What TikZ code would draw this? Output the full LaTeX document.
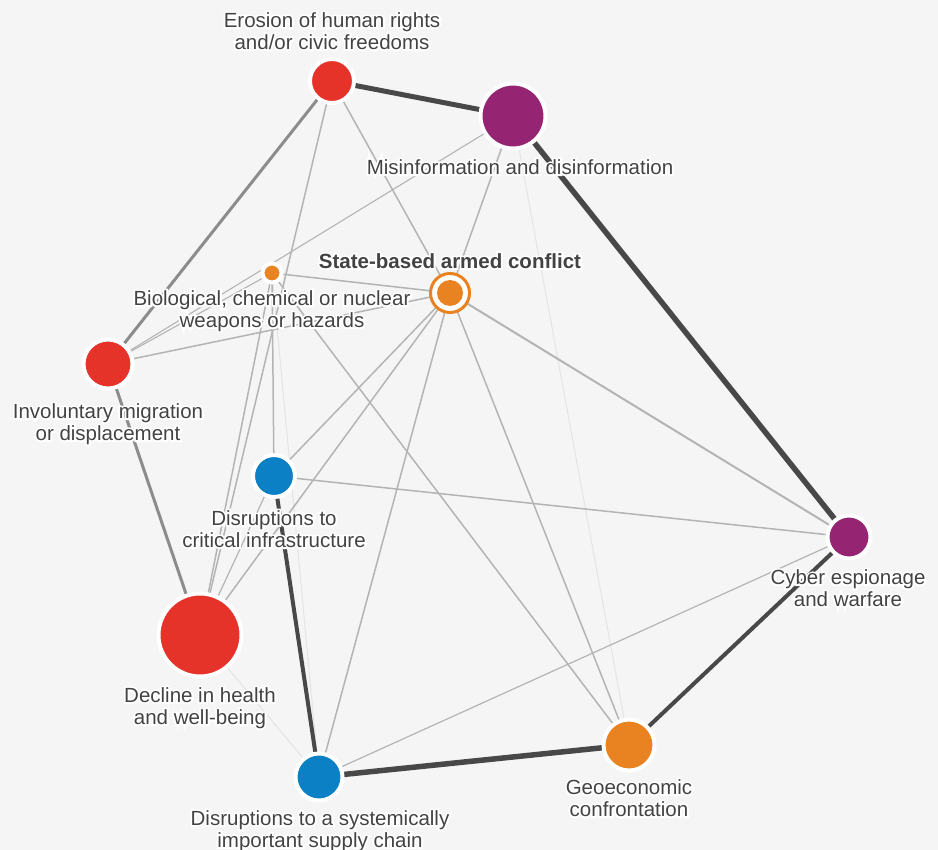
\documentclass[tikz,border=0pt]{standalone}
\usepackage{fontspec}
\setmainfont{Liberation Sans}
\definecolor{bgc}{HTML}{F5F5F5}
\definecolor{rred}{HTML}{E5332A}
\definecolor{rpurple}{HTML}{952473}
\definecolor{rorange}{HTML}{E98321}
\definecolor{rblue}{HTML}{0C80C4}
\definecolor{edark}{HTML}{484848}
\definecolor{emid}{HTML}{8C8C8C}
\definecolor{ethin}{HTML}{B4B4B4}
\definecolor{efaint}{HTML}{E4E4E4}
\definecolor{txt}{HTML}{434343}
\newcommand{\halo}[1]{\leavevmode\rlap{\color{white}\addfontfeatures{FakeBold=18}#1}#1}
\pgfdeclarelayer{bglayer}
\pgfdeclarelayer{edgelayer}
\pgfsetlayers{bglayer,edgelayer,main}
\begin{document}
\begin{tikzpicture}[x=1pt,y=-1pt,
  risk/.style={circle, inner sep=0pt, draw=white, line width=4pt},
  lab/.style={text=txt, align=center, inner sep=0pt, font=\fontsize{20.5}{22}\selectfont},
  boldlab/.style={lab, font=\fontsize{20.5}{22}\selectfont\bfseries},
  strong/.style={draw=edark, line width=5pt},
  medium/.style={draw=emid, line width=3pt},
  weak/.style={draw=ethin, line width=1.5pt},
  faint/.style={draw=efaint, line width=1pt}
]
\begin{pgfonlayer}{bglayer}
  \fill[bgc] (0,0) rectangle (938,850);
\end{pgfonlayer}
\useasboundingbox (0,0) rectangle (938,850);

% risk nodes
\node[risk, fill=rred, minimum size=44pt] (erosion) at (332,81) {};
\node[risk, fill=rpurple, minimum size=65pt] (misinfo) at (513,116) {};
\node[circle, inner sep=0pt, fill=white, draw=rorange, line width=3pt, minimum size=39pt] (state) at (450,293) {};
\node[circle, inner sep=0pt, fill=rorange, minimum size=26pt] (statein) at (state.center) {};
\node[risk, fill=rorange, minimum size=19pt] (bio) at (272,273) {};
\node[risk, fill=rred, minimum size=49pt] (migration) at (108,364) {};
\node[risk, fill=rblue, minimum size=42pt] (infra) at (274,476) {};
\node[risk, fill=rpurple, minimum size=43pt] (cyber) at (849,537) {};
\node[risk, fill=rred, minimum size=83pt] (decline) at (200,635) {};
\node[risk, fill=rblue, minimum size=47pt] (supply) at (319,777) {};
\node[risk, fill=rorange, minimum size=51pt] (geo) at (629,745) {};

% connectors
\begin{pgfonlayer}{edgelayer}
  % faint
  \draw[faint] (misinfo.center) -- (geo.center);
  \draw[faint] (bio.center) -- (supply.center);
  \draw[faint] (decline.center) -- (supply.center);
  % weak
  \draw[weak] (erosion.center) -- (state.center);
  \draw[weak] (erosion.center) -- (decline.center);
  \draw[weak] (misinfo.center) -- (state.center);
  \draw[weak, line width=1.1pt] (misinfo.center) -- (migration.center);
  \draw[weak, line width=1.1pt] (migration.center) -- (bio.center);
  \draw[weak] (migration.center) -- (state.center);
  \draw[weak] (bio.center) -- (state.center);
  \draw[weak] (bio.center) -- (infra.center);
  \draw[weak] (bio.center) -- (decline.center);
  \draw[weak] (bio.center) -- (geo.center);
  \draw[weak] (state.center) -- (infra.center);
  \draw[weak] (state.center) -- (decline.center);
  \draw[weak] (state.center) -- (supply.center);
  \draw[weak] (state.center) -- (geo.center);
  \draw[weak, line width=2pt] (state.center) -- (cyber.center);
  \draw[weak] (infra.center) -- (cyber.center);
  \draw[weak, line width=1.2pt] (infra.center) -- (decline.center);
  \draw[weak, line width=1.2pt] (supply.center) -- (cyber.center);
  % medium
  \draw[medium] (erosion.center) -- (migration.center);
  \draw[medium] (migration.center) -- (decline.center);
  % strong
  \draw[strong] (erosion.center) -- (misinfo.center);
  \draw[strong, line width=5.5pt] (misinfo.center) -- (cyber.center);
  \draw[strong, line width=4pt] (cyber.center) -- (geo.center);
  \draw[strong, line width=5.5pt] (geo.center) -- (supply.center);
  \draw[strong, line width=4pt] (supply.center) -- (infra.center);
\end{pgfonlayer}

% labels
\node[lab] (lerosion) at (332,31) {\halo{Erosion of human rights}\\\halo{and/or civic freedoms}};
\node[lab] (lmisinfo) at (520,167) {\halo{Misinformation and disinformation}};
\node[boldlab] (lstate) at (450,261) {\halo{State-based armed conflict}};
\node[lab] (lbio) at (272,311) {\halo{Biological, chemical or nuclear}\\\halo{weapons or hazards}};
\node[lab] (lmigration) at (108,424) {\halo{Involuntary migration}\\\halo{or displacement}};
\node[lab] (linfra) at (274,529) {\halo{Disruptions to}\\\halo{critical infrastructure}};
\node[lab] (lcyber) at (848,588) {\halo{Cyber espionage}\\\halo{and warfare}};
\node[lab] (ldecline) at (200,708) {\halo{Decline in health}\\\halo{and well-being}};
\node[lab] (lsupply) at (320,831) {\halo{Disruptions to a systemically}\\\halo{important supply chain}};
\node[lab] (lgeo) at (629,798) {\halo{Geoeconomic}\\\halo{confrontation}};
\end{tikzpicture}
\end{document}
